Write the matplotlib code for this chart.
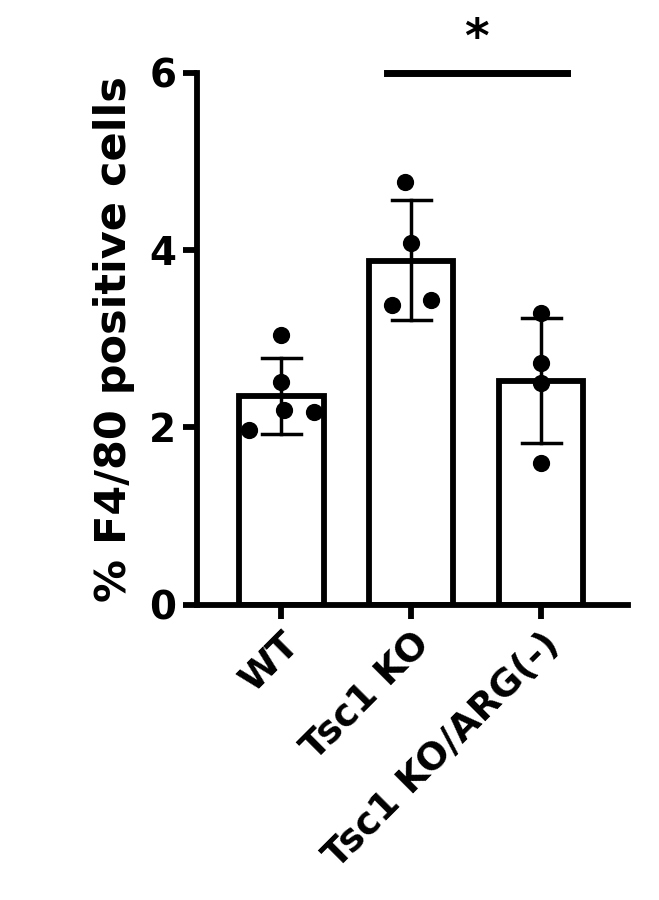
import matplotlib
matplotlib.use("Agg")
import matplotlib.pyplot as plt
import numpy as np

groups = ["WT", "Tsc1 KO", "Tsc1 KO/ARG(-)"]
means = [2.35, 3.88, 2.53]
err_lo = [1.93, 3.21, 1.83]
err_hi = [2.78, 4.57, 3.24]
points = [[3.04, 2.51, 2.2, 2.17, 1.97],
          [4.77, 4.08, 3.44, 3.38],
          [3.29, 2.73, 2.5, 1.6]]
offsets = [[0.0, 0.0, 0.02, 0.25, -0.25],
           [-0.05, 0.0, 0.15, -0.15],
           [0.0, 0.0, 0.0, 0.0]]

fig = plt.figure(figsize=(6.59, 9), dpi=100)
ax = fig.add_axes([0.299, 0.328, 0.654, 0.591])
x = np.arange(len(groups))
lw = 4.2
ax.bar(x, means, width=0.65, color="white", edgecolor="black", linewidth=lw, zorder=2)
for i in x:
    ax.plot([i, i], [err_lo[i], err_hi[i]], color="black", lw=2.5, zorder=3)
    for yv in (err_lo[i], err_hi[i]):
        ax.plot([i - 0.15, i + 0.15], [yv, yv], color="black", lw=2.5, zorder=3)
    ax.scatter(np.array(offsets[i]) + i, points[i], s=130, color="black", zorder=4)

ax.plot([0.81, 2.2], [6.0, 6.0], color="black", lw=5, clip_on=False)
ax.text(1.5, 6.12, "*", ha="center", va="bottom", fontsize=34, fontweight="bold")

ax.set_xlim(-0.65, 2.67)
ax.set_ylim(0, 6)
ax.set_yticks([0, 2, 4, 6])
ax.set_xticks(x)
ax.set_xticklabels(groups, rotation=45, ha="right", rotation_mode="anchor",
                   fontsize=27, fontweight="bold")
for lab in ax.get_yticklabels():
    lab.set_fontsize(28); lab.set_fontweight("bold")
ax.set_ylabel("% F4/80 positive cells", fontsize=31, fontweight="bold", labelpad=10)
for s in ["top", "right"]:
    ax.spines[s].set_visible(False)
for s in ["left", "bottom"]:
    ax.spines[s].set_linewidth(lw)
ax.tick_params(width=lw, length=10, pad=5)
fig.savefig("out.png", dpi=100)
